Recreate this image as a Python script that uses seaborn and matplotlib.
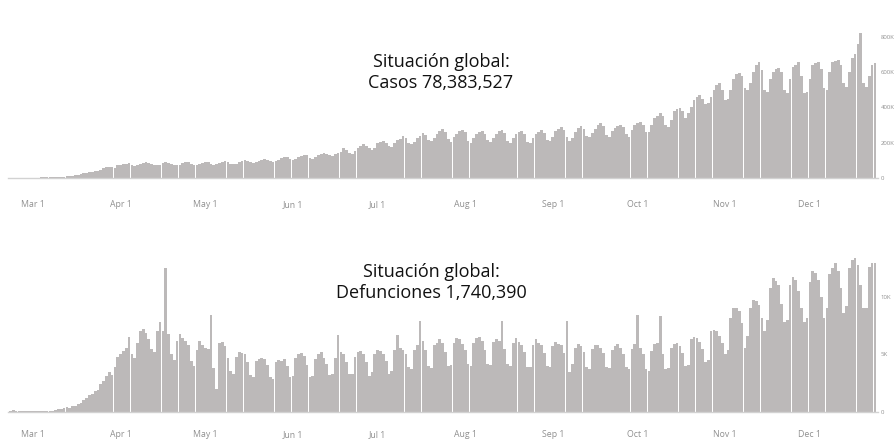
import matplotlib
matplotlib.use("Agg")
import matplotlib.pyplot as plt
import seaborn as sns
import pandas as pd

# daily values, 22 Feb 2020 .. 24 Dec 2020
dates = pd.date_range("2020-02-22", "2020-12-24", freq="D")

# new cases per day, thousands (Feb 22-29, then weeks Sun..Sat from Mar 1)
cases_k = [
    1.0, 0.6, 0.6, 0.9, 1.1, 1.2, 1.4, 1.8,
    2, 2, 2, 3, 3, 3, 4,
    4, 4, 5, 7, 8, 10, 11,
    13, 15, 17, 22, 28, 30, 32,
    33, 40, 41, 48, 58, 62, 64,
    60, 58, 72, 75, 78, 82, 84,
    75, 70, 76, 82, 86, 90, 84,
    78, 72, 72, 76, 84, 90, 86,
    80, 72, 74, 76, 86, 92, 88,
    80, 72, 74, 80, 86, 92, 88,
    80, 76, 78, 86, 92, 96, 90,
    82, 78, 82, 90, 96, 100, 96,
    90, 86, 88, 96, 104, 106, 104,
    96, 88, 94, 104, 112, 118, 120,
    110, 102, 110, 118, 126, 130, 128,
    116, 108, 120, 130, 138, 140, 136,
    128, 122, 134, 142, 150, 170, 160,
    140, 136, 152, 170, 180, 190, 184,
    170, 160, 172, 200, 204, 210, 196,
    180, 178, 196, 216, 222, 236, 226,
    196, 190, 204, 226, 238, 254, 246,
    218, 208, 226, 250, 266, 276, 262,
    220, 206, 230, 252, 266, 274, 258,
    212, 198, 226, 248, 262, 266, 252,
    214, 204, 228, 250, 266, 272, 256,
    210, 200, 226, 248, 258, 264, 250,
    206, 198, 224, 250, 262, 272, 256,
    214, 208, 230, 266, 280, 290, 272,
    230, 212, 226, 262, 284, 292, 280,
    240, 232, 256, 276, 298, 310, 296,
    246, 234, 266, 286, 296, 302, 290,
    250, 230, 270, 300, 312, 316, 300,
    260, 262, 300, 340, 352, 368, 350,
    300, 290, 330, 380, 390, 398, 380,
    340, 370, 400, 440, 460, 470, 450,
    420, 425, 460, 500, 526, 538, 500,
    440, 445, 500, 560, 590, 596, 580,
    510, 500, 540, 600, 640, 658, 610,
    500, 490, 560, 600, 620, 623, 600,
    500, 480, 560, 630, 640, 658, 580,
    480, 490, 560, 640, 650, 658, 620,
    510, 500, 600, 660, 665, 669, 640,
    540, 515, 600, 680, 700, 760, 822,
    540, 515, 580, 640, 650,
]

# new deaths per day
deaths = [
    100, 150, 70, 60, 60, 50, 60, 60,
    60, 70, 80, 90, 100, 110, 100,
    130, 200, 220, 280, 330, 400, 380,
    480, 560, 700, 780, 1000, 1200, 1500,
    1600, 1800, 1900, 2400, 2700, 3100, 3500,
    3200, 3900, 4800, 5000, 5300, 5600, 6500,
    5000, 4700, 6000, 7000, 7200, 6900, 6300,
    5500, 5200, 7000, 7800, 7000, 12500, 6800,
    5000, 4500, 6200, 6800, 6400, 6200, 5800,
    4400, 4000, 5400, 6200, 5800, 5600, 5500,
    8400, 3800, 2000, 6000, 6100, 5700, 4700,
    3600, 3300, 4800, 5200, 5100, 5000, 4300,
    3200, 3000, 4400, 4600, 4700, 4600, 4100,
    3000, 2900, 4300, 4500, 4400, 4600, 4000,
    3000, 3100, 4700, 5000, 5100, 4900, 4100,
    3000, 3100, 4600, 5000, 5200, 4700, 4200,
    3200, 3300, 4700, 6700, 5200, 5000, 4300,
    3300, 3300, 4800, 5200, 5300, 5000, 4300,
    3100, 3500, 5000, 5400, 5300, 5000, 4400,
    3300, 3600, 5400, 6700, 5600, 5400, 5000,
    3900, 3700, 5400, 5800, 7900, 6200, 5400,
    4000, 3800, 5800, 6000, 6300, 6000, 5200,
    4000, 4100, 6000, 6400, 6300, 5900, 5400,
    4200, 4000, 6000, 6400, 6500, 6200, 5400,
    4200, 4100, 6100, 6300, 6200, 7900, 5500,
    4200, 4000, 6000, 6400, 6100, 5800, 5200,
    3900, 3900, 5800, 6300, 6000, 5800, 5100,
    4000, 3900, 5700, 6100, 5900, 5800, 5100,
    7900, 3500, 4200, 5600, 5900, 5700, 5200,
    3900, 3700, 5500, 5800, 5800, 5600, 5100,
    3900, 3800, 5400, 5700, 5900, 5600, 5000,
    3900, 3700, 5500, 5900, 8400, 5600, 5000,
    3700, 3600, 5300, 5900, 6000, 8300, 5000,
    3700, 3800, 5600, 5900, 6000, 5700, 5100,
    4000, 4100, 6300, 6500, 6400, 6100, 5500,
    4300, 4500, 7000, 7100, 7000, 6600, 6000,
    5000, 5400, 8200, 9000, 9000, 8800, 7700,
    5600, 6600, 9000, 9700, 9600, 9300, 8200,
    7000, 8000, 10800, 11600, 11400, 11000, 9400,
    7800, 8000, 11000, 11700, 11500, 10500, 9000,
    7800, 8200, 11300, 12200, 12100, 11500, 10000,
    8200, 9000, 12000, 12500, 12900, 12200, 10800,
    8600, 9200, 12500, 13200, 13400, 12800, 11000,
    9000, 9000, 12600, 12900, 12900,
]

month_labels = ["Mar 1", "Apr 1", "May 1", "Jun 1", "Jul 1",
                "Aug 1", "Sep 1", "Oct 1", "Nov 1", "Dec 1"]
case_ticks = [0, 200, 400, 600, 800]
case_tick_labels = ["0", "200K", "400K", "600K", "800K"]
death_ticks = [0, 5000, 10000]
death_tick_labels = ["0", "5K", "10K"]

df = pd.DataFrame({"day": range(len(dates)), "cases": cases_k, "deaths": deaths})
month_idx = [i for i, d in enumerate(dates) if d.day == 1]

sns.set_theme(style="white")
plt.rcParams["font.family"] = ["Open Sans", "DejaVu Sans"]

W, H = 895, 444
fig = plt.figure(figsize=(W / 100, H / 100), dpi=100)
bar_col = "#bcb9b9"
tick_col = "#909090"

ax1 = fig.add_axes([8 / W, 1 - 178 / H, 870 / W, 150 / H])
ax2 = fig.add_axes([8 / W, 1 - 412 / H, 870 / W, 167 / H])

panels = [
    (ax1, "cases", (0, 850), case_ticks, case_tick_labels, 16),
    (ax2, "deaths", (0, 14500), death_ticks, death_tick_labels, 13),
]
for ax, col, ylim, yt, ytl, xpad in panels:
    sns.barplot(data=df, x="day", y=col, color=bar_col, width=0.96,
                saturation=1, linewidth=0, ax=ax)
    ax.set_xlim(-0.85, len(dates) + 0.1)
    ax.set_ylim(*ylim)
    ax.set_xticks(month_idx)
    ax.set_xticklabels(month_labels)
    ax.set_yticks(yt)
    ax.set_yticklabels(ytl)
    ax.yaxis.tick_right()
    ax.tick_params(axis="x", length=0, pad=xpad, labelsize=6.3, labelcolor=tick_col)
    ax.tick_params(axis="y", length=0, pad=2, labelsize=4.3, labelcolor=tick_col)
    ax.set_xlabel("")
    ax.set_ylabel("")
    for s in ["top", "left", "right"]:
        ax.spines[s].set_visible(False)
    ax.spines["bottom"].set_color("#d2d2d2")
    ax.spines["bottom"].set_linewidth(1)
    ax.patch.set_alpha(0)

fig.text(441 / W, 1 - 72.5 / H, "Situación global:\nCasos 78,383,527",
         ha="center", va="center", fontsize=13, color="#111111", linespacing=1.25)
fig.text(431 / W, 1 - 282.5 / H, "Situación global:\nDefunciones 1,740,390",
         ha="center", va="center", fontsize=13, color="#111111", linespacing=1.25)

fig.savefig("out.png", dpi=100)
